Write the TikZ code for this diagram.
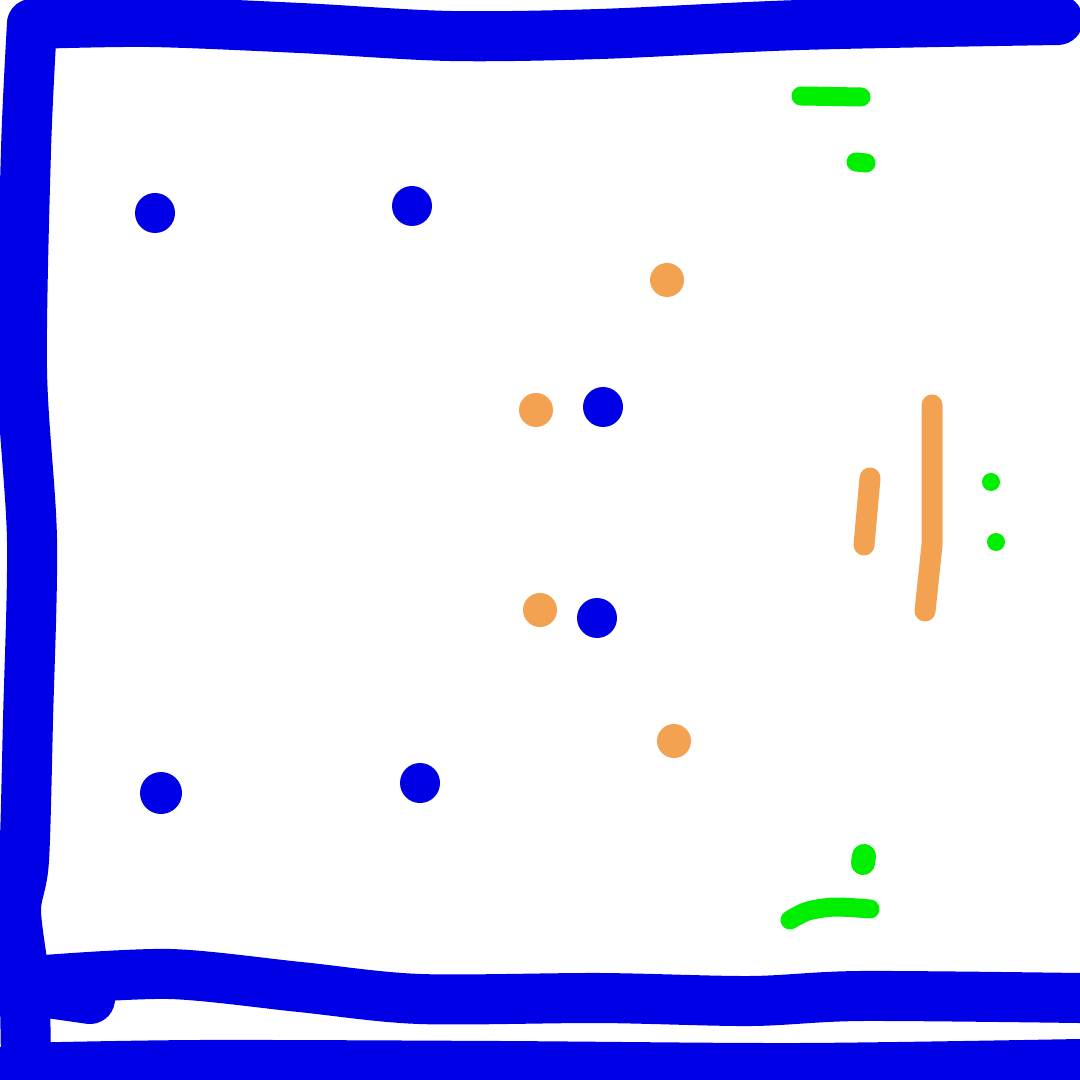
\documentclass[tikz,border=0pt]{standalone}
\usepackage{xcolor}
\usepackage{tikz}
\definecolor{inkblue}{RGB}{0, 0, 230}
\definecolor{inkorange}{RGB}{242, 162, 80}
\definecolor{inkgreen}{RGB}{0, 238, 0}

\begin{document}
\begin{tikzpicture}[
    x=0.01cm, y=-0.01cm,
    frameline/.style={draw=inkblue, line width=0.5cm, line cap=round, line join=round},
    bluedot/.style={fill=inkblue},
    orangedot/.style={fill=inkorange},
    orangeline/.style={draw=inkorange, line width=0.21cm, line cap=round, line join=round},
    greenline/.style={draw=inkgreen, line width=0.19cm, line cap=round}
]
    \useasboundingbox[fill=white] (0,0) rectangle (1080,1080);

    % Frame
    \draw [frameline] plot[smooth] coordinates {(1058,20) (800,25) (600,34) (450,36) (300,28) (150,22) (32,24)};
    \draw [frameline] plot[smooth] coordinates {(32,24) (26,150) (22,370) (32,540) (28,720) (24,860) (16,910) (24,980) (26,1062)};
    \draw [frameline] plot[smooth] coordinates {(45,980) (170,974) (300,987) (420,999) (600,998) (750,1001) (860,996) (1080,998)};
    \draw [frameline] (55,994) -- (90,999);
    \draw [frameline] plot[smooth] coordinates {(14,1068) (200,1065) (500,1066) (800,1068) (1080,1064)};

    % Blue dots
    \fill [bluedot] (155,213) circle (20);
    \fill [bluedot] (412,206) circle (20);
    \fill [bluedot] (603,407) circle (20);
    \fill [bluedot] (597,618) circle (20);
    \fill [bluedot] (161,793) circle (21);
    \fill [bluedot] (420,783) circle (20);

    % Orange dots and strokes
    \fill [orangedot] (667,280) circle (17);
    \fill [orangedot] (536,410) circle (17);
    \fill [orangedot] (540,610) circle (17);
    \fill [orangedot] (674,741) circle (17);
    \draw [orangeline] (932,405) -- (932,545) -- (925,611);
    \draw [orangeline] (870,478) -- (864,545);

    % Green marks
    \draw [greenline] (801,96) -- (861,97);
    \draw [greenline] (856,162) -- (866,163);
    \fill [inkgreen] (991,482) circle (9);
    \fill [inkgreen] (996,542) circle (9);
    \draw [greenline, line width=0.24cm] (864,856) -- (863,863);
    \draw [greenline] plot[smooth] coordinates {(790,920) (808,911) (835,907) (870,909)};
\end{tikzpicture}
\end{document}
